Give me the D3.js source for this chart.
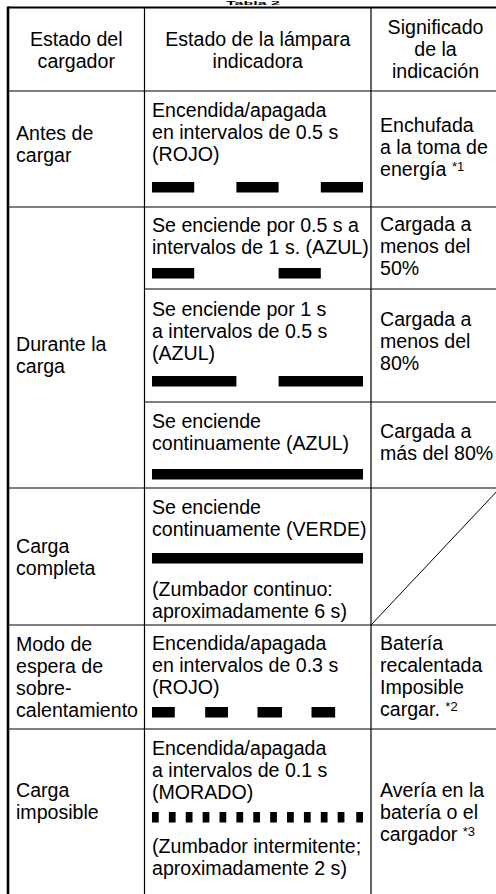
<!DOCTYPE html>
<html><head><meta charset="utf-8">
<script src="https://cdn.jsdelivr.net/npm/d3@7"></script>
<style>
body{margin:0;background:#fff}
svg{display:block}
text{font-family:"Liberation Sans",Arial,Helvetica,sans-serif;fill:#000}
</style>
</head><body>
<svg id="c" width="496" height="894"></svg>
<script>
// ---------- data ----------
const title = "Tabla 2";
const headers = [["Estado del","cargador"],["Estado de la lámpara","indicadora"],["Significado","de la","indicación"]];
const chargerStates = [["Antes de","cargar"],["Durante la","carga"],["Carga","completa"],["Modo de","espera de","sobre-","calentamiento"],["Carga","imposible"]];
const stateSubRows = [1,3,1,1,1];
const lampTexts = [
  ["Encendida/apagada","en intervalos de 0.5 s","(ROJO)"],
  ["Se enciende por 0.5 s a","intervalos de 1 s. (AZUL)"],
  ["Se enciende por 1 s","a intervalos de 0.5 s","(AZUL)"],
  ["Se enciende","continuamente (AZUL)"],
  ["Se enciende","continuamente (VERDE)"],
  ["Encendida/apagada","en intervalos de 0.3 s","(ROJO)"],
  ["Encendida/apagada","a intervalos de 0.1 s","(MORADO)"]
];
// lamp "on" intervals in seconds along the pattern strip
const lampOnIntervals = [
  [[0,0.5],[1,1.5],[2,2.5]],
  [[0,0.5],[1.5,2]],
  [[0,1],[1.5,2.5]],
  [[0,2.5]],
  [[0,2.5]],
  [[0,0.27],[0.63,0.9],[1.25,1.54],[1.89,2.17]],
  [[0,0.08],[0.2,0.28],[0.4,0.48],[0.6,0.68],[0.8,0.88],[1,1.08],[1.2,1.28],[1.4,1.48],[1.6,1.68],[1.8,1.88],[2,2.08],[2.2,2.28],[2.42,2.5]]
];
const buzzerTexts = [null,null,null,null,["(Zumbador continuo:","aproximadamente 6 s)"],null,["(Zumbador intermitente;","aproximadamente 2 s)"]];
const meanings = [
  ["Enchufada","a la toma de","energía *1"],
  ["Cargada a","menos del","50%"],
  ["Cargada a","menos del","80%"],
  ["Cargada a","más del 80%"],
  null,
  ["Batería","recalentada","Imposible","cargar. *2"],
  ["Avería en la","batería o el","cargador *3"]
];
const timeDomain = [0, 2.5];

// ---------- layout ----------
const FS = 19.6, SX = 1.0, LH = 22, BAR_H = 10.5;
const colX = [8, 144.5, 371, 500];
const rowEdges = [8, 91, 207, 289, 402, 488, 625, 729, 940];
const lampFirst = [117, 232, 315.5, 428, 514, 650, 755];
const barTop = [182, 268, 376, 469, 553, 707, 812];
const buzzerFirst = [null,null,null,null,596,null,853];
const meaningFirst = [131.5, 231, 325.5, 438, null, 649.5, 796.5];
const stateFirst = [140, 351, 553, 650.5, 797];
const headerFirst = [46, 46, 33.5];

const svg = d3.select("#c");
const x = d3.scaleLinear().domain(timeDomain).range([152, 363]);

// one <text> element per cell, one <tspan> per line
function cell(g, arr, x0, y0, anchor) {
  const tx = g.append("text")
    .attr("transform", `translate(${x0},${y0}) scale(${SX},1)`)
    .attr("font-size", FS).attr("text-anchor", anchor || "start");
  let carry = 0;
  arr.forEach((t, i) => {
    const m = t.match(/^(.*?)(\*\d)$/);
    const dy = i === 0 ? 0 : LH + carry;
    carry = 0;
    if (m) {
      tx.append("tspan").attr("x", 0).attr("dy", dy).text(m[1]);
      tx.append("tspan").attr("font-size", 13).attr("dy", -4.5).text(m[2]);
      carry = 4.5;
    } else {
      tx.append("tspan").attr("x", 0).attr("dy", dy).text(t);
    }
  });
}

// title (only a sliver of it shows above the table)
svg.append("text").attr("transform", "translate(253,5.4) scale(2.67,1)").attr("text-anchor","middle")
  .attr("font-size", 6).attr("font-weight","bold").text(title);

// headers
const hdr = svg.append("g");
headers.forEach((h, i) => cell(hdr, h, (colX[i]+colX[i+1])/2, headerFirst[i], "middle"));

// charger states
const st = svg.append("g");
chargerStates.forEach((s, i) => cell(st, s, 16, stateFirst[i]));

// lamp column
const lamp = svg.append("g");
lampTexts.forEach((t, i) => {
  cell(lamp, t, 152, lampFirst[i]);
  lamp.append("g").selectAll("rect").data(lampOnIntervals[i]).join("rect")
    .attr("x", d => x(d[0])).attr("width", d => x(d[1]) - x(d[0]))
    .attr("y", barTop[i]).attr("height", BAR_H).attr("fill", "#000");
  if (buzzerTexts[i]) cell(lamp, buzzerTexts[i], 152, buzzerFirst[i]);
});

// meaning column
const mg = svg.append("g");
meanings.forEach((m, i) => {
  if (m) cell(mg, m, 380, meaningFirst[i]);
  else mg.append("line").attr("x1", colX[2]).attr("y1", rowEdges[i+2])
        .attr("x2", colX[3]).attr("y2", rowEdges[i+1]).attr("stroke","#000").attr("stroke-width",1);
});

// grid
const grid = svg.append("g").attr("stroke","#000").attr("fill","none");
grid.append("line").attr("x1", colX[0]).attr("x2", 510).attr("y1", 7.5).attr("y2", 7.5).attr("stroke-width", 2.2);
grid.append("line").attr("x1", 8).attr("x2", 8).attr("y1", 6.5).attr("y2", 940).attr("stroke-width", 2.6);
[colX[1], colX[2]].forEach(cx => grid.append("line").attr("x1", cx).attr("x2", cx).attr("y1", 7.5).attr("y2", 940).attr("stroke-width", 1.2));
const stateEdgeIdx = [1];
stateSubRows.reduce((a, n) => { stateEdgeIdx.push(a + n); return a + n; }, 1);
rowEdges.slice(1, -1).forEach((y, k) => {
  const full = stateEdgeIdx.includes(k + 1);
  grid.append("line").attr("x1", full ? colX[0] : colX[1]).attr("x2", 510)
    .attr("y1", y).attr("y2", y).attr("stroke-width", 1.2);
});
</script>
</body></html>
